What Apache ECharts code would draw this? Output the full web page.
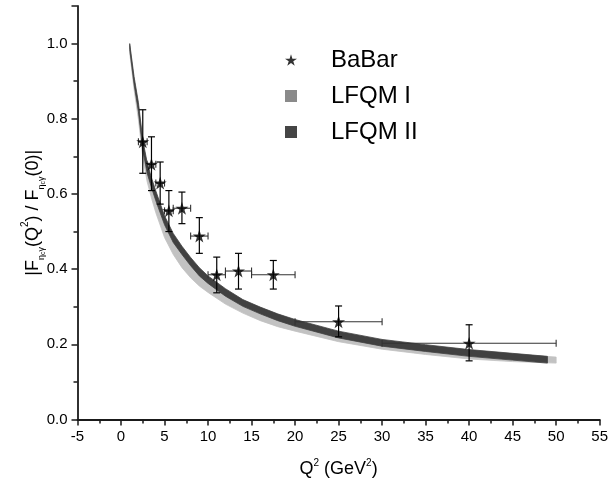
<!DOCTYPE html>
<html>
<head>
<meta charset="utf-8">
<script src="https://cdn.jsdelivr.net/npm/echarts@6/dist/echarts.min.js"></script>
<style>
html,body{margin:0;padding:0;background:#fff;}
#chart{width:611px;height:487px;}
</style>
</head>
<body>
<div id="chart"></div>
<script>
// BaBar data points
const babarQ2   = [2.5, 3.5, 4.5, 5.5, 7, 9, 11, 13.5, 17.5, 25, 40];
const babarF    = [0.739, 0.679, 0.629, 0.555, 0.562, 0.488, 0.385, 0.395, 0.385, 0.260, 0.203];
const babarXLo  = [2, 3, 4, 5, 6, 8, 10, 12, 15, 20, 30];
const babarXHi  = [3, 4, 5, 6, 8, 10, 12, 15, 20, 30, 50];
const babarYHi  = [0.824, 0.752, 0.685, 0.609, 0.605, 0.537, 0.432, 0.442, 0.423, 0.302, 0.252];
const babarYLo  = [0.655, 0.609, 0.573, 0.500, 0.521, 0.442, 0.337, 0.347, 0.347, 0.220, 0.156];

// LFQM II band (dark)
const qDark     = [1, 1.5, 2, 2.5, 3, 3.5, 4, 5, 6, 7, 8, 9, 10, 12, 14, 16, 18, 20, 25, 30, 35, 40, 45, 49];
const darkUpper = [1.0, 0.912, 0.843, 0.744, 0.684, 0.643, 0.608, 0.542, 0.495, 0.461, 0.431, 0.404, 0.382, 0.348, 0.319, 0.299, 0.281, 0.266, 0.235, 0.213, 0.199, 0.186, 0.176, 0.168];
const darkLower = [0.984, 0.892, 0.819, 0.717, 0.656, 0.617, 0.582, 0.518, 0.471, 0.439, 0.409, 0.382, 0.362, 0.328, 0.301, 0.281, 0.263, 0.248, 0.217, 0.195, 0.181, 0.168, 0.158, 0.150];

// LFQM I band (light)
const qLight     = [1, 1.5, 2, 2.5, 3, 3.5, 4, 5, 6, 7, 8, 9, 10, 12, 14, 16, 18, 20, 25, 30, 35, 40, 45, 50];
const lightUpper = [0.995, 0.905, 0.836, 0.738, 0.677, 0.637, 0.601, 0.536, 0.489, 0.455, 0.425, 0.398, 0.377, 0.343, 0.315, 0.295, 0.277, 0.262, 0.232, 0.21, 0.196, 0.183, 0.174, 0.166];
const lightLower = [0.975, 0.878, 0.798, 0.697, 0.633, 0.589, 0.55, 0.484, 0.439, 0.404, 0.377, 0.355, 0.338, 0.307, 0.283, 0.263, 0.247, 0.235, 0.207, 0.187, 0.173, 0.161, 0.154, 0.150];

const xTicks = [-5, 0, 5, 10, 15, 20, 25, 30, 35, 40, 45, 50, 55];
const yTicks = [0.0, 0.2, 0.4, 0.6, 0.8, 1.0];

const starPath = 'path://M50,0 L61.2,34.5 L97.6,34.5 L68.2,55.9 L79.4,90.5 L50,69.1 L20.6,90.5 L31.8,55.9 L2.4,34.5 L38.8,34.5 Z';
const FONT = '"Liberation Sans", Arial, sans-serif';

function bandRenderer(qs, up, lo, fill) {
  return function (params, api) {
    const pts = [];
    for (let i = 0; i < qs.length; i++) pts.push(api.coord([qs[i], up[i]]));
    for (let i = qs.length - 1; i >= 0; i--) pts.push(api.coord([qs[i], lo[i]]));
    return { type: 'polygon', shape: { points: pts, smooth: 0 }, style: { fill: fill, stroke: fill, lineWidth: 0.8 } };
  };
}

const errData = babarQ2.map((q, i) => [q, babarF[i], babarXLo[i], babarXHi[i], babarYLo[i], babarYHi[i]]);

const chart = echarts.init(document.getElementById('chart'), null, { renderer: 'canvas' });
chart.setOption({
  animation: false,
  textStyle: { fontFamily: FONT },
  grid: { left: 77.5, right: 10, top: 6, bottom: 67.5, containLabel: false },
  legend: {
    orient: 'vertical', left: 280, top: 42, itemWidth: 12, itemHeight: 12, itemGap: 10,
    textStyle: { fontFamily: FONT, fontSize: 24, color: '#000', padding: [0, 0, 0, 29], lineHeight: 26 },
    data: [
      { name: 'BaBar', icon: starPath, itemStyle: { color: '#000' } },
      { name: 'LFQM I', icon: 'rect', itemStyle: { color: '#8a8a8a' } },
      { name: 'LFQM II', icon: 'rect', itemStyle: { color: '#454545' } }
    ]
  },
  xAxis: {
    type: 'value', min: xTicks[0], max: xTicks[xTicks.length - 1], interval: 5,
    name: '{m|Q}{sup|2}{m| (GeV}{sup|2}{m|)}', nameLocation: 'middle', nameGap: 39,
    nameMoveOverlap: false,
    nameTextStyle: {
      rich: {
        m: { fontFamily: FONT, fontSize: 18, color: '#000', lineHeight: 22 },
        sup: { fontFamily: FONT, fontSize: 10, color: '#000', lineHeight: 10, verticalAlign: 'top' }
      }
    },
    axisLine: { onZero: false, lineStyle: { color: '#1a1a1a', width: 1.8 } },
    axisTick: { length: 6, lineStyle: { color: '#1a1a1a', width: 1.5 } },
    minorTick: { show: true, splitNumber: 2, length: 4, lineStyle: { color: '#1a1a1a', width: 1.5 } },
    splitLine: { show: false },
    axisLabel: { fontFamily: FONT, fontSize: 15, color: '#000', margin: 10 }
  },
  yAxis: {
    type: 'value', min: 0, max: 1.1, interval: 0.2,
    name: '{m||F}{s|η}{ss|c}{s|γ}{m|(Q}{sup|2}{m|) / F}{s|η}{ss|c}{s|γ}{m|(0)|}',
    nameLocation: 'middle', nameRotate: 90, nameGap: 31, nameMoveOverlap: false,
    nameTextStyle: {
      rich: {
        m: { fontFamily: FONT, fontSize: 18, color: '#000', lineHeight: 26 },
        s: { fontFamily: FONT, fontSize: 9, color: '#000', lineHeight: 9, verticalAlign: 'bottom' },
        ss: { fontFamily: FONT, fontSize: 7, color: '#000', lineHeight: 5, verticalAlign: 'bottom' },
        sup: { fontFamily: FONT, fontSize: 10, color: '#000', lineHeight: 14, verticalAlign: 'top' }
      }
    },
    axisLine: { show: true, onZero: false, lineStyle: { color: '#1a1a1a', width: 1.8 } },
    axisTick: { show: true, length: 6, lineStyle: { color: '#1a1a1a', width: 1.5 } },
    minorTick: { show: true, splitNumber: 2, length: 4, lineStyle: { color: '#1a1a1a', width: 1.5 } },
    splitLine: { show: false },
    axisLabel: { fontFamily: FONT, fontSize: 15, color: '#000', margin: 10, showMaxLabel: false,
      formatter: v => v.toFixed(1) }
  },
  series: [
    {
      name: 'LFQM I', type: 'custom', coordinateSystem: 'cartesian2d',
      itemStyle: { color: '#8a8a8a' }, data: [[qLight[0], lightUpper[0]]], clip: true, z: 1,
      renderItem: bandRenderer(qLight, lightUpper, lightLower, '#c2c2c2')
    },
    {
      name: 'LFQM II', type: 'custom', coordinateSystem: 'cartesian2d',
      itemStyle: { color: '#454545' }, data: [[qDark[0], darkUpper[0]]], clip: true, z: 2,
      renderItem: bandRenderer(qDark, darkUpper, darkLower, '#414141')
    },
    {
      name: 'BaBar errors', type: 'custom', coordinateSystem: 'cartesian2d', z: 3,
      data: errData,
      renderItem: function (params, api) {
        const xl = api.coord([api.value(2), api.value(1)]);
        const xh = api.coord([api.value(3), api.value(1)]);
        const yl = api.coord([api.value(0), api.value(4)]);
        const yh = api.coord([api.value(0), api.value(5)]);
        const cap = 3.5;
        const hs = { stroke: '#333', lineWidth: 1.1 };
        const vs = { stroke: '#000', lineWidth: 1.2 };
        return {
          type: 'group',
          children: [
            { type: 'line', shape: { x1: xl[0], y1: xl[1], x2: xh[0], y2: xh[1] }, style: hs },
            { type: 'line', shape: { x1: xl[0], y1: xl[1] - cap, x2: xl[0], y2: xl[1] + cap }, style: hs },
            { type: 'line', shape: { x1: xh[0], y1: xh[1] - cap, x2: xh[0], y2: xh[1] + cap }, style: hs },
            { type: 'line', shape: { x1: yl[0], y1: yl[1], x2: yh[0], y2: yh[1] }, style: vs },
            { type: 'line', shape: { x1: yl[0] - cap, y1: yl[1], x2: yl[0] + cap, y2: yl[1] }, style: vs },
            { type: 'line', shape: { x1: yh[0] - cap, y1: yh[1], x2: yh[0] + cap, y2: yh[1] }, style: vs }
          ]
        };
      }
    },
    {
      name: 'BaBar', type: 'scatter', symbol: starPath, symbolSize: 13, z: 4,
      itemStyle: { color: '#000' },
      data: babarQ2.map((q, i) => [q, babarF[i]])
    }
  ]
});
</script>
</body>
</html>
